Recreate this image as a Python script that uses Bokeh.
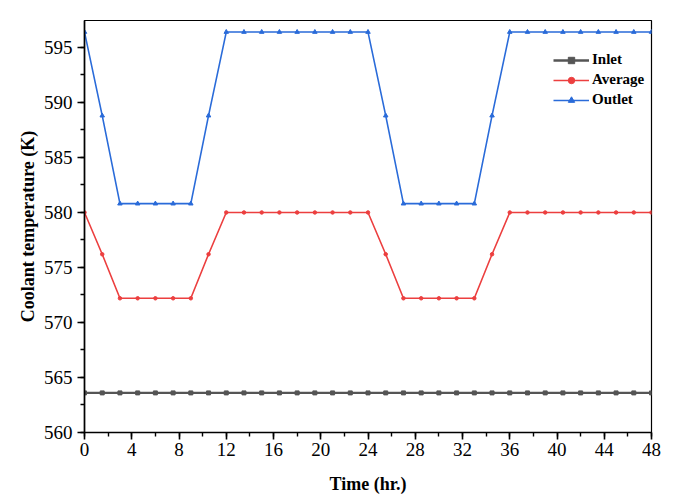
from bokeh.plotting import figure
from bokeh.models import Range1d, SingleIntervalTicker, Legend, LegendItem
from bokeh.embed import file_html
from bokeh.resources import INLINE

time_hr = [0, 1.5, 3, 4.5, 6, 7.5, 9, 10.5, 12, 13.5, 15, 16.5, 18, 19.5, 21, 22.5,
           24, 25.5, 27, 28.5, 30, 31.5, 33, 34.5, 36, 37.5, 39, 40.5, 42, 43.5, 45, 46.5, 48]
inlet = [563.6] * 33
average = [580.0, 576.2, 572.2, 572.2, 572.2, 572.2, 572.2, 576.2,
           580.0, 580.0, 580.0, 580.0, 580.0, 580.0, 580.0, 580.0,
           580.0, 576.2, 572.2, 572.2, 572.2, 572.2, 572.2, 576.2,
           580.0, 580.0, 580.0, 580.0, 580.0, 580.0, 580.0, 580.0, 580.0]
outlet = [596.4, 588.8, 580.8, 580.8, 580.8, 580.8, 580.8, 588.8,
          596.4, 596.4, 596.4, 596.4, 596.4, 596.4, 596.4, 596.4,
          596.4, 588.8, 580.8, 580.8, 580.8, 580.8, 580.8, 588.8,
          596.4, 596.4, 596.4, 596.4, 596.4, 596.4, 596.4, 596.4, 596.4]

FONT = "Liberation Serif"
C_IN, C_AV, C_OUT = "#555555", "#ec3f3f", "#2a6bd9"

p = figure(width=676, height=499, output_backend="svg", toolbar_location=None,
           x_range=Range1d(0, 48), y_range=Range1d(560, 597.45),
           min_border_left=84, min_border_right=25, min_border_top=20, min_border_bottom=67)

p.xgrid.visible = False
p.ygrid.visible = False
p.outline_line_color = "black"
p.outline_line_width = 1.2
p.background_fill_color = "white"
p.border_fill_color = "white"

l1 = p.line(time_hr, inlet, line_color=C_IN, line_width=2.4)
m1 = p.scatter(time_hr, inlet, marker="square", size=4, color=C_IN)
l2 = p.line(time_hr, average, line_color=C_AV, line_width=1.6)
m2 = p.scatter(time_hr, average, marker="circle", size=3.5, color=C_AV)
l3 = p.line(time_hr, outlet, line_color=C_OUT, line_width=1.6)
m3 = p.scatter(time_hr, outlet, marker="triangle", size=4.5, color=C_OUT)

p.xaxis.ticker = SingleIntervalTicker(interval=4, num_minor_ticks=2)
p.yaxis.ticker = SingleIntervalTicker(interval=5, num_minor_ticks=2)
for ax in (p.xaxis[0], p.yaxis[0]):
    ax.axis_line_color = "black"
    ax.axis_line_width = 1.6
    ax.major_tick_line_color = "black"
    ax.major_tick_line_width = 1.6
    ax.minor_tick_line_color = "black"
    ax.minor_tick_line_width = 1.4
    ax.major_tick_in = 0
    ax.major_tick_out = 7
    ax.minor_tick_in = 0
    ax.minor_tick_out = 4
    ax.major_label_text_font = FONT
    ax.major_label_text_font_size = "19px"
    ax.major_label_text_color = "black"
    ax.axis_label_text_font = FONT
    ax.axis_label_text_font_size = "18px"
    ax.axis_label_text_font_style = "bold"
    ax.axis_label_text_color = "black"

p.xaxis.axis_label = "Time (hr.)"
p.yaxis.axis_label = "Coolant temperature (K)"
p.xaxis.major_label_standoff = 3
p.xaxis.axis_label_standoff = 15
p.yaxis.major_label_standoff = 5
p.yaxis.axis_label_standoff = 3

legend = Legend(items=[
    LegendItem(label="Inlet", renderers=[l1, m1]),
    LegendItem(label="Average", renderers=[l2, m2]),
    LegendItem(label="Outlet", renderers=[l3, m3]),
], location=(469, 324))
legend.border_line_color = None
legend.background_fill_alpha = 0
legend.label_text_font = FONT
legend.label_text_font_style = "bold"
legend.label_text_font_size = "15px"
legend.label_text_color = "black"
legend.glyph_width = 36
legend.glyph_height = 16
legend.label_standoff = 3
legend.spacing = 3
legend.padding = 0
legend.margin = 0
p.add_layout(legend, "center")

open("out.html", "w").write(file_html(p, INLINE))
